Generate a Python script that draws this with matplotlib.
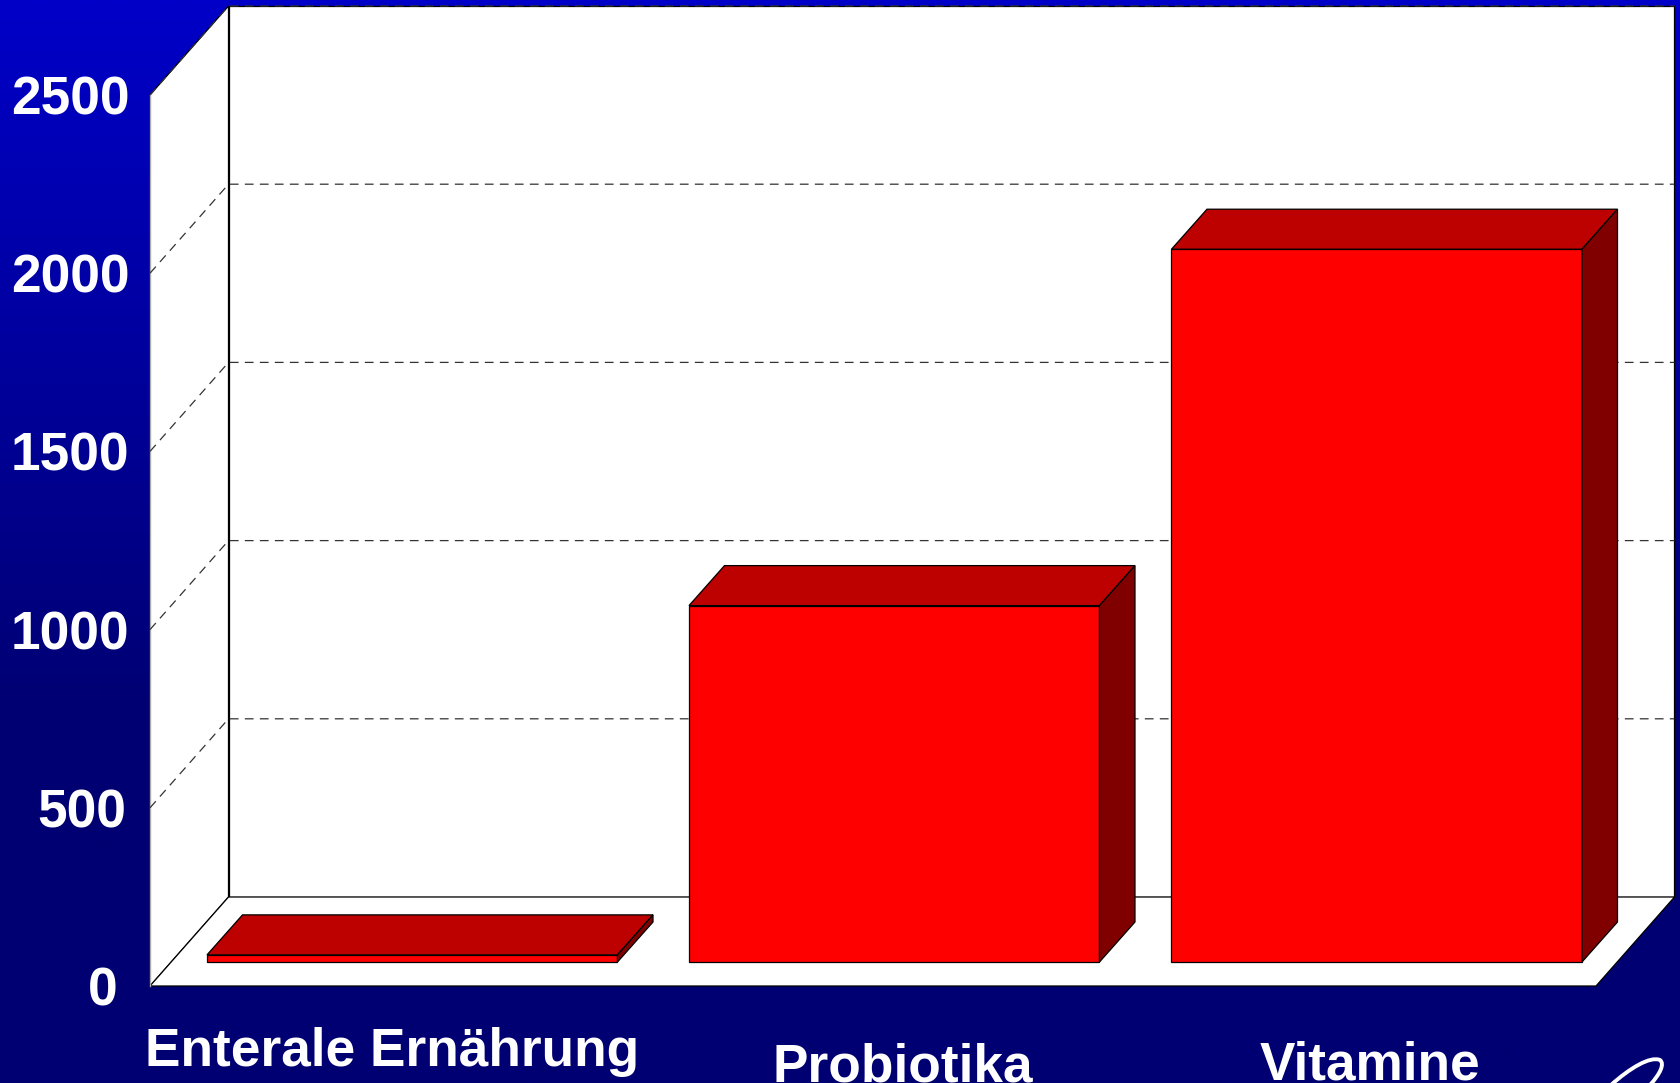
#!/usr/bin/env python3
import numpy as np
import matplotlib
matplotlib.use("Agg")
import matplotlib.pyplot as plt
from matplotlib.patches import PathPatch, Polygon
from matplotlib.path import Path
from matplotlib.transforms import Affine2D, ScaledTranslation

categories = ["Enterale Ernährung", "Probiotika", "Vitamine"]
values = [20, 1000, 2000]
y_ticks = [0, 500, 1000, 1500, 2000, 2500]
# the original tick labels are not quite right aligned, px shift per tick
y_tick_shift = [-12, -3, 0, 0, 0, 0]

W, H = 1681, 1083
LEFT, RIGHT, TOP, BOTTOM = 150, 1596, 95, 986
WALL_DX, WALL_DY = 78.5, 89  # px offset of the back wall
BAR_X0 = [207, 689, 1171.5]
BAR_W = 410.5
BAR_DX, BAR_DY = 35.5, 40
BASE_UP = 24


def main():
    plt.rcParams["font.family"] = ["Liberation Sans", "DejaVu Sans"]
    fig = plt.figure(figsize=(W / 100, H / 100), dpi=100)

    # background fades to navy and stays flat near the bottom
    blue = np.clip(np.linspace(200, 70, 256), 114, None)
    grad = np.zeros((256, 1, 3))
    grad[:, 0, 2] = blue / 255
    bg = fig.add_axes([0, 0, 1, 1])
    bg.imshow(grad, aspect="auto", interpolation="bilinear")
    bg.axis("off")

    ax = fig.add_axes(
        [LEFT / W, 1 - BOTTOM / H, (RIGHT - LEFT) / W, (BOTTOM - TOP) / H],
        facecolor="none",
    )
    ax.set_xlim(LEFT, RIGHT)
    ax.set_ylim(0, 2500)
    px = 2500 / (BOTTOM - TOP)  # value units per pixel

    def add(points, color, zorder, edge="black", lw=0.9):
        ax.add_patch(
            Polygon(points, closed=True, facecolor=color, edgecolor=edge,
                    linewidth=lw, clip_on=False, joinstyle="miter", zorder=zorder)
        )

    dx, dy = WALL_DX, WALL_DY * px
    l, r = LEFT, RIGHT
    # side wall, back wall, floor
    add([(l, 0), (l + dx, dy), (l + dx, 2500 + dy), (l, 2500)], "white", 1)
    add([(l + dx, dy), (r + dx, dy), (r + dx, 2500 + dy), (l + dx, 2500 + dy)], "white", 1)
    add([(l, 0), (r, 0), (r + dx, dy), (l + dx, dy)], "white", 1)
    ax.plot([l, l], [0, 2500], color="#aaaaaa", lw=1, clip_on=False, zorder=2)

    for t in y_ticks[1:]:
        ax.plot([l, l + dx, r + dx], [t, t + dy, t + dy], color="#333333",
                lw=0.9, dashes=(7, 5), clip_on=False, zorder=2)

    base = BASE_UP * px
    bdx, bdy = BAR_DX, BAR_DY * px
    for x0, v in zip(BAR_X0, values):
        x1 = x0 + BAR_W
        add([(x0, base), (x1, base), (x1, base + v), (x0, base + v)], "#ff0000", 3)
        add([(x0, base + v), (x1, base + v), (x1 + bdx, base + v + bdy), (x0 + bdx, base + v + bdy)], "#bd0000", 3)
        add([(x1, base), (x1 + bdx, base + bdy), (x1 + bdx, base + v + bdy), (x1, base + v)], "#800000", 3)

    ax.set_yticks(y_ticks)
    ax.set_xticks([])
    ax.tick_params(axis="y", length=0, pad=15)
    for lab, shift in zip(ax.get_yticklabels(), y_tick_shift):
        lab.set_color("white")
        lab.set_fontsize(38.3)
        lab.set_fontweight("bold")
        lab.set_transform(lab.get_transform() + ScaledTranslation(shift / 100, 0, fig.dpi_scale_trans))
    for s in ax.spines.values():
        s.set_visible(False)

    # category labels sit at uneven heights in the original, last two run off the page
    label_x = [392, 903, 1370]
    label_y = [1066, 1081, 1079]
    for x, y, name in zip(label_x, label_y, categories):
        fig.text(x / W, 1 - y / H, name, color="white", fontsize=38.3,
                 fontweight="bold", ha="center", va="baseline")

    # corner signature, runs off the bottom edge
    sig = Path(
        [(1611, 1085), (1630, 1068), (1650, 1056), (1660, 1060), (1665, 1064), (1660, 1074), (1650, 1085)],
        [Path.MOVETO, Path.CURVE4, Path.CURVE4, Path.CURVE4, Path.CURVE4, Path.CURVE4, Path.CURVE4],
    )
    fig.add_artist(PathPatch(
        sig.transformed(Affine2D().scale(1 / W, -1 / H).translate(0, 1)),
        transform=fig.transFigure, facecolor="none", edgecolor="white", lw=2.8,
    ))

    fig.savefig("out.png", dpi=100)


if __name__ == "__main__":
    main()
